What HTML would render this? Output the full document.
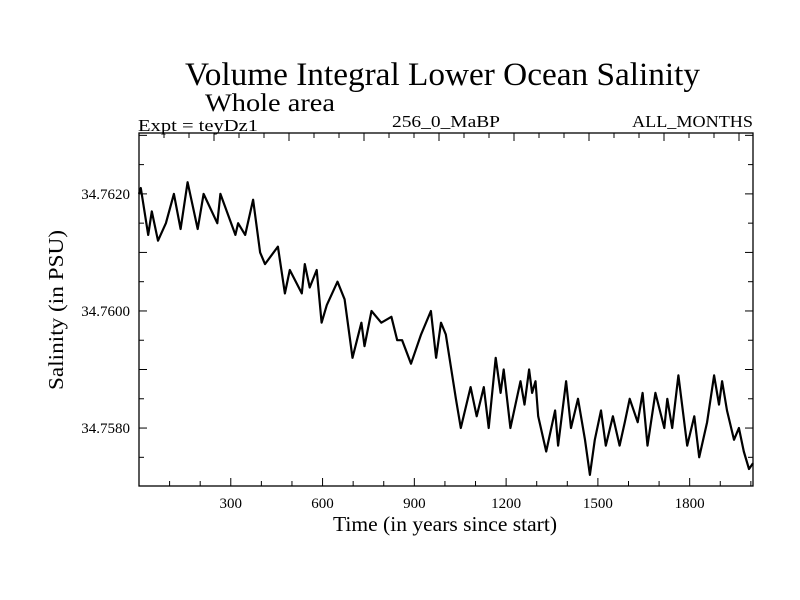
<!DOCTYPE html>
<html><head><meta charset="utf-8"><style>
body{margin:0;background:#fff;}
svg{display:block;font-family:"Liberation Serif",serif;}
</style></head><body>
<svg width="800" height="600">
<rect width="800" height="600" fill="#fff"/>
<text x="185" y="85" font-size="33" textLength="515" lengthAdjust="spacingAndGlyphs">Volume Integral Lower Ocean Salinity</text>
<text x="205" y="111" font-size="25" textLength="130" lengthAdjust="spacingAndGlyphs">Whole area</text>
<text x="138" y="131" font-size="17" textLength="120" lengthAdjust="spacingAndGlyphs">Expt = teyDz1</text>
<text x="392" y="127" font-size="17" textLength="108" lengthAdjust="spacingAndGlyphs">256_0_MaBP</text>
<text x="632" y="127" font-size="17" textLength="121" lengthAdjust="spacingAndGlyphs">ALL_MONTHS</text>
<text x="333" y="531" font-size="21" textLength="224" lengthAdjust="spacingAndGlyphs">Time (in years since start)</text>
<text transform="translate(63,390) rotate(-90)" font-size="21" textLength="160" lengthAdjust="spacingAndGlyphs">Salinity (in PSU)</text>
<g id="axes"></g>
<path id="line" fill="none" stroke="#000" stroke-width="2.2" stroke-linejoin="round"/>
</svg>
<script>
const years=[0,6,30,42,62,88,114,136,159,192,211,256,266,315,324,347,373,396,412,454,477,493,532,542,558,581,597,614,649,672,698,727,737,760,792,825,844,860,889,922,954,971,987,1003,1036,1052,1084,1104,1127,1143,1166,1182,1192,1214,1247,1260,1275,1285,1296,1305,1331,1360,1370,1396,1412,1435,1458,1474,1490,1510,1526,1549,1571,1588,1604,1630,1646,1662,1688,1717,1727,1743,1763,1792,1815,1831,1857,1880,1896,1906,1922,1945,1961,1977,1994,2007];
const salinity=[34.7620,34.7621,34.7613,34.7617,34.7612,34.7615,34.7620,34.7614,34.7622,34.7614,34.7620,34.7615,34.7620,34.7613,34.7615,34.7613,34.7619,34.7610,34.7608,34.7611,34.7603,34.7607,34.7603,34.7608,34.7604,34.7607,34.7598,34.7601,34.7605,34.7602,34.7592,34.7598,34.7594,34.7600,34.7598,34.7599,34.7595,34.7595,34.7591,34.7596,34.7600,34.7592,34.7598,34.7596,34.7585,34.7580,34.7587,34.7582,34.7587,34.7580,34.7592,34.7586,34.7590,34.7580,34.7588,34.7584,34.7590,34.7586,34.7588,34.7582,34.7576,34.7583,34.7577,34.7588,34.7580,34.7585,34.7578,34.7572,34.7578,34.7583,34.7577,34.7582,34.7577,34.7581,34.7585,34.7581,34.7586,34.7577,34.7586,34.7580,34.7585,34.7580,34.7589,34.7577,34.7582,34.7575,34.7581,34.7589,34.7584,34.7588,34.7583,34.7578,34.7580,34.7576,34.7573,34.7574];
const xTicks=[300,600,900,1200,1500,1800];
const yTicks=[34.7580,34.7600,34.7620];
const L=139,R=753,T=133,B=486,X0=0,X1=2007,Y0=34.75701,Y1=34.76304;
const xs=t=>L+(t-X0)/(X1-X0)*(R-L);
const ys=v=>B-(v-Y0)/(Y1-Y0)*(B-T);
const NS='http://www.w3.org/2000/svg';
const g=document.getElementById('axes');
function ln(x1,y1,x2,y2,name){const e=document.createElementNS(NS,'line');e.setAttribute('x1',x1);e.setAttribute('y1',y1);e.setAttribute('x2',x2);e.setAttribute('y2',y2);e.setAttribute('stroke','#000');e.setAttribute('stroke-width','1');


g.appendChild(e);}
const fr=document.createElementNS(NS,'rect');fr.setAttribute('x',L);fr.setAttribute('y',T);fr.setAttribute('width',R-L);fr.setAttribute('height',B-T);fr.setAttribute('fill','none');fr.setAttribute('stroke','#000');fr.setAttribute('stroke-width','1.3');


g.appendChild(fr);
for(let t=100;t<X1;t+=100){const x=xs(t);const maj=t%300===0;ln(x,B,x,B-(maj?8:5),'x-tick');}
for(let k=1;L+25*k<R;k++){const x=L+25*k;ln(x,T,x,T+(k%3===0?8:5),'top-tick');}
for(let v=34.7575;v<Y1;v+=0.0005){const y=ys(v);const maj=Math.abs((v-34.758)/0.001-Math.round((v-34.758)/0.001))<1e-6;ln(L,y,L+(maj?8:5),y,'y-tick');ln(R,y,R-(maj?8:5),y,'right-tick');}
xTicks.forEach(t=>{const e=document.createElementNS(NS,'text');e.setAttribute('x',xs(t));e.setAttribute('y',508);e.setAttribute('font-size','15');e.setAttribute('text-anchor','middle');e.textContent=t;


g.appendChild(e);});
yTicks.forEach(v=>{const e=document.createElementNS(NS,'text');e.setAttribute('x',130);e.setAttribute('y',ys(v)+5);e.setAttribute('font-size','15');e.setAttribute('text-anchor','end');e.textContent=v.toFixed(4);


g.appendChild(e);});
document.getElementById('line').setAttribute('d',years.map((t,i)=>(i?'L':'M')+xs(t).toFixed(1)+','+ys(salinity[i]).toFixed(1)).join(''));
</script>
</body></html>
